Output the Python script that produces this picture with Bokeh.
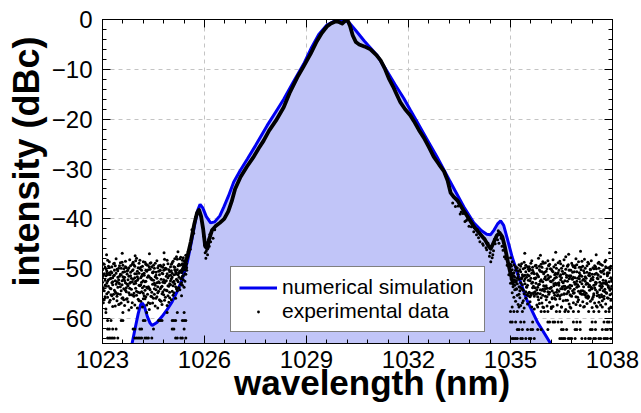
from bokeh.plotting import figure
from bokeh.models import (Range1d, LinearAxis, SingleIntervalTicker, Legend,
                          LegendItem)
from bokeh.embed import file_html
from bokeh.resources import INLINE

FONT = "Liberation Sans"

# ---------------- numerical simulation (blue curve) ----------------
sim_x = [1023.78, 1023.87, 1023.95, 1024.05, 1024.12, 1024.17, 1024.23, 1024.32,
         1024.40, 1024.46, 1024.60, 1024.75, 1024.90, 1025.05, 1025.20, 1025.35,
         1025.50, 1025.62, 1025.72, 1025.80, 1025.87, 1025.95, 1026.05, 1026.18,
         1026.30, 1026.45, 1026.57, 1026.70, 1026.86, 1027.05, 1027.26, 1027.50,
         1027.84, 1028.10, 1028.33, 1028.60, 1028.92, 1029.15, 1029.36, 1029.60,
         1029.85, 1030.05, 1030.25, 1030.45, 1030.70, 1031.08, 1031.37, 1031.60,
         1031.86, 1032.05, 1032.26, 1032.55, 1032.84, 1033.20, 1033.63, 1033.92,
         1034.15, 1034.30, 1034.41, 1034.52, 1034.62, 1034.71, 1034.80, 1034.90,
         1035.05, 1035.25, 1035.49, 1035.80, 1036.18, 1036.30]
sim_y = [-67.5, -65.0, -62.3, -59.0, -57.2, -56.9, -57.5, -59.6,
         -60.9, -61.4, -60.8, -59.6, -58.2, -56.6, -54.5, -52.0,
         -48.5, -44.5, -40.8, -38.3, -37.1, -37.8, -39.5, -40.8,
         -40.6, -39.4, -37.6, -35.5, -32.6, -30.3, -28.0, -25.3,
         -21.3, -18.5, -16.0, -12.7, -8.9, -5.6, -3.0, -1.1,
         -0.2, 0.0, -0.6, -2.2, -4.3, -7.2, -10.4, -13.0,
         -15.8, -18.1, -20.6, -24.1, -27.6, -32.2, -37.6, -40.8,
         -42.4, -43.1, -43.2, -42.2, -41.0, -40.4, -41.3, -43.8,
         -47.7, -51.8, -56.4, -60.8, -65.0, -66.6]

# ---------------- experimental data: main spectrum ----------------
exp_x = [1025.30, 1025.40, 1025.50, 1025.60, 1025.70, 1025.78, 1025.84, 1025.90,
         1025.96, 1026.02, 1026.08, 1026.14, 1026.22, 1026.32, 1026.45, 1026.58,
         1026.70, 1026.80, 1026.90, 1027.06, 1027.25, 1027.45, 1027.60, 1027.74,
         1027.90, 1028.10, 1028.33, 1028.50, 1028.73, 1028.90, 1029.12, 1029.30,
         1029.45, 1029.60, 1029.72, 1029.85, 1029.95, 1030.05, 1030.13, 1030.20,
         1030.28, 1030.36, 1030.45, 1030.55, 1030.70, 1030.88, 1031.05, 1031.18,
         1031.30, 1031.42, 1031.55, 1031.65, 1031.76, 1031.90, 1032.05, 1032.16,
         1032.30, 1032.45, 1032.60, 1032.74, 1032.90, 1033.04, 1033.15, 1033.24,
         1033.33, 1033.45, 1033.63, 1033.80, 1033.95, 1034.10, 1034.25, 1034.35,
         1034.42, 1034.50, 1034.60, 1034.68, 1034.76, 1034.84, 1034.92, 1035.00,
         1035.08]
exp_y = [-51.0, -49.5, -47.5, -44.5, -41.0, -38.8, -38.2, -39.5,
         -42.0, -45.5, -46.0, -44.0, -42.3, -41.5, -40.8, -40.0,
         -38.5, -36.5, -34.0, -31.6, -29.5, -27.5, -25.8, -24.3,
         -22.3, -20.3, -17.6, -14.8, -11.6, -9.6, -6.9, -4.4,
         -2.7, -1.4, -0.8, -0.4, -0.5, -0.8, -0.3, 0.0,
         -1.3, -3.2, -4.5, -5.0, -5.4, -6.0, -7.1, -8.2,
         -9.8, -11.8, -13.5, -15.0, -16.6, -18.0, -19.2, -20.4,
         -22.1, -23.7, -25.6, -27.5, -29.1, -30.4, -32.3, -34.8,
         -35.6, -36.4, -38.4, -40.2, -41.8, -43.0, -44.2, -45.4,
         -46.0, -44.8, -43.3, -42.8, -43.6, -45.8, -48.5, -51.0,
         -53.0]

# scattered points around the two side peaks
side_x = [1025.45, 1025.52, 1025.58, 1025.63, 1025.68, 1025.74,
          1025.98, 1026.00, 1026.02, 1026.04, 1026.05, 1026.07, 1026.09, 1026.10,
          1026.12, 1026.14, 1026.16, 1026.18, 1026.20, 1026.25, 1026.30,
          1033.30, 1033.38, 1033.46, 1033.52, 1033.55, 1033.60, 1033.66, 1033.70,
          1033.74, 1033.78, 1033.85, 1033.88, 1033.92, 1034.00, 1034.02, 1034.06,
          1034.10, 1034.14, 1034.18, 1034.20, 1034.24, 1034.28, 1034.30, 1034.34,
          1034.38, 1034.40, 1034.42, 1034.44, 1034.46, 1034.48, 1034.50, 1034.53,
          1034.55, 1034.58, 1034.62, 1034.64, 1034.66, 1034.72, 1034.75, 1034.78,
          1034.82, 1034.86, 1034.90, 1034.95]
side_y = [-49.3, -46.6, -46.1, -42.2, -42.9, -39.6,
          -43.5, -45.2, -46.8, -47.9, -46.5, -44.8, -47.2, -45.9,
          -44.2, -45.5, -43.1, -44.6, -42.8, -43.9, -42.2,
          -36.8, -37.5, -37.4, -39.0, -38.6, -38.9, -40.5, -40.3,
          -40.0, -41.5, -41.6, -41.0, -42.6, -43.2, -42.1, -43.8,
          -44.6, -43.4, -45.0, -45.3, -44.0, -45.8, -46.2, -44.9,
          -47.5, -46.8, -48.6, -45.6, -47.8, -47.2, -46.4, -44.1,
          -45.0, -43.6, -44.2, -42.4, -44.9, -43.9, -45.5, -46.3,
          -47.6, -48.0, -49.3, -51.2]

# ---------------- experimental data: noise floor, left ----------------
left_x = [1023.000, 1023.025, 1023.050, 1023.075, 1023.100, 1023.125, 1023.150, 1023.175, 1023.200, 1023.225,
          1023.250, 1023.275, 1023.300, 1023.325, 1023.350, 1023.375, 1023.400, 1023.425, 1023.450, 1023.475,
          1023.500, 1023.525, 1023.550, 1023.575, 1023.600, 1023.625, 1023.650, 1023.675, 1023.700, 1023.725,
          1023.750, 1023.775, 1023.800, 1023.825, 1023.850, 1023.875, 1023.900, 1023.925, 1023.950, 1023.975,
          1024.000, 1024.025, 1024.050, 1024.075, 1024.100, 1024.125, 1024.150, 1024.175, 1024.200, 1024.225,
          1024.250, 1024.275, 1024.300, 1024.325, 1024.350, 1024.375, 1024.400, 1024.425, 1024.450, 1024.475,
          1024.500, 1024.525, 1024.550, 1024.575, 1024.600, 1024.625, 1024.650, 1024.675, 1024.700, 1024.725,
          1024.750, 1024.775, 1024.800, 1024.825, 1024.850, 1024.875, 1024.900, 1024.925, 1024.950, 1024.975,
          1025.000, 1025.025, 1025.050, 1025.075, 1025.100, 1025.125, 1025.150, 1025.175, 1025.200, 1025.225,
          1025.250, 1025.275, 1025.300, 1025.325, 1025.350, 1025.375, 1025.400, 1025.425, 1025.450, 1025.475]
left_a = [-50.2, -53.8, -49.1, -55.6, -51.4, -52.9, -48.3, -54.7, -50.8, -56.3,
          -51.9, -49.6, -53.2, -55.1, -48.9, -52.4, -54.9, -50.1, -51.7, -57.2,
          -49.4, -53.6, -51.2, -48.7, -55.8, -52.1, -50.6, -54.3, -49.8, -53.1,
          -56.6, -51.5, -48.2, -52.7, -54.1, -50.4, -55.3, -49.2, -51.8, -53.9,
          -47.9, -52.3, -56.1, -50.9, -53.4, -49.7, -54.6, -51.1, -48.6, -55.4,
          -52.6, -50.3, -53.7, -49.3, -56.8, -51.6, -54.2, -48.8, -52.2, -50.7,
          -55.9, -49.9, -53.3, -51.3, -48.4, -54.8, -50.5, -52.8, -56.4, -49.5,
          -53.5, -51.0, -55.2, -48.1, -52.5, -50.0, -54.4, -49.0, -51.4, -53.0,
          -49.6, -52.0, -54.5, -48.5, -51.2, -50.2, -53.6, -47.6, -52.3, -49.4,
          -50.8, -48.0, -53.1, -49.2, -51.5, -47.8, -50.1, -48.6, -49.5, -48.2]
left_b = [-54.1, -51.3, -56.2, -49.7, -53.5, -50.4, -55.7, -52.2, -48.6, -53.9,
          -50.6, -55.4, -51.8, -49.0, -54.3, -57.5, -50.9, -52.6, -55.0, -49.9,
          -53.0, -51.1, -56.9, -52.4, -49.3, -54.0, -51.7, -48.5, -53.8, -56.0,
          -50.2, -54.8, -52.9, -50.7, -57.8, -49.1, -52.1, -55.5, -51.0, -48.4,
          -54.5, -51.6, -49.8, -53.3, -50.0, -56.5, -52.7, -49.5, -54.9, -51.3,
          -48.7, -55.6, -50.5, -53.9, -51.4, -49.6, -57.0, -52.0, -54.7, -50.8,
          -52.3, -55.1, -48.9, -54.2, -51.9, -53.6, -49.4, -56.2, -50.3, -53.7,
          -50.9, -54.6, -49.2, -52.8, -55.7, -51.5, -48.3, -53.4, -56.7, -50.6,
          -53.2, -50.4, -48.8, -55.3, -52.5, -49.7, -51.1, -54.0, -48.1, -52.6,
          -53.8, -50.5, -47.7, -51.9, -49.0, -52.2, -48.4, -51.0, -47.3, -50.3]
left_c = [-52.7, -56.8, -51.0, -53.3, -58.1, -50.9, -52.5, -49.5, -56.7, -51.2,
          -55.2, -52.8, -57.6, -51.4, -50.3, -54.6, -48.0, -56.4, -53.7, -52.2,
          -57.1, -48.8, -54.4, -55.9, -51.6, -50.0, -57.4, -52.8, -56.1, -50.5,
          -53.4, -58.3, -55.2, -49.4, -51.9, -56.8, -48.7, -53.0, -57.3, -52.5,
          -51.0, -57.9, -54.7, -56.4, -48.3, -53.2, -51.5, -57.7, -52.4, -53.5,
          -56.0, -49.1, -57.3, -55.1, -53.6, -58.2, -50.1, -55.5, -49.6, -56.9,
          -49.3, -52.9, -57.5, -50.7, -55.6, -57.9, -52.6, -50.4, -54.0, -56.5,
          -57.2, -49.7, -52.2, -56.3, -50.1, -54.3, -57.4, -51.8, -53.5, -55.8,
          -51.3, -56.2, -50.9, -52.7, -54.8, -48.0, -55.9, -50.8, -54.4, -51.2,
          -49.1, -54.2, -52.0, -55.4, -53.3, -50.0, -53.7, -52.5, -51.1, -49.0]
left_d = [-51.6, -49.0, -54.4, -52.3, -50.0, -55.0, -51.2, -53.5, -49.7, -52.0,
          -54.0, -50.8, -52.6, -56.0, -51.3, -49.4, -53.1, -55.5, -50.4, -52.8,
          -51.5, -55.1, -49.9, -53.2, -50.7, -56.2, -52.4, -49.6, -54.6, -51.1,
          -52.2, -49.8, -53.9, -51.4, -55.2, -52.6, -50.2, -54.9, -49.5, -52.9,
          -55.3, -50.5, -52.0, -48.9, -54.8, -51.8, -50.3, -53.8, -56.0, -50.9,
          -54.3, -52.5, -49.2, -51.7, -50.2, -53.9, -48.9, -51.9, -55.6, -53.1,
          -50.6, -54.0, -51.6, -55.9, -52.8, -49.8, -54.5, -51.2, -49.3, -52.1,
          -55.0, -52.7, -50.3, -54.2, -49.9, -52.4, -51.0, -55.4, -50.2, -54.7,
          -52.4, -49.1, -51.7, -53.4, -49.6, -53.0, -50.6, -52.1, -50.2, -53.8,
          -51.7, -49.3, -50.4, -52.8, -48.3, -51.4, -49.6, -50.2, -48.5, -49.8]

# ---------------- experimental data: noise floor, right ----------------
right_x = [1035.000, 1035.025, 1035.050, 1035.075, 1035.100, 1035.125, 1035.150, 1035.175, 1035.200, 1035.225,
           1035.250, 1035.275, 1035.300, 1035.325, 1035.350, 1035.375, 1035.400, 1035.425, 1035.450, 1035.475,
           1035.500, 1035.525, 1035.550, 1035.575, 1035.600, 1035.625, 1035.650, 1035.675, 1035.700, 1035.725,
           1035.750, 1035.775, 1035.800, 1035.825, 1035.850, 1035.875, 1035.900, 1035.925, 1035.950, 1035.975,
           1036.000, 1036.025, 1036.050, 1036.075, 1036.100, 1036.125, 1036.150, 1036.175, 1036.200, 1036.225,
           1036.250, 1036.275, 1036.300, 1036.325, 1036.350, 1036.375, 1036.400, 1036.425, 1036.450, 1036.475,
           1036.500, 1036.525, 1036.550, 1036.575, 1036.600, 1036.625, 1036.650, 1036.675, 1036.700, 1036.725,
           1036.750, 1036.775, 1036.800, 1036.825, 1036.850, 1036.875, 1036.900, 1036.925, 1036.950, 1036.975,
           1037.000, 1037.025, 1037.050, 1037.075, 1037.100, 1037.125, 1037.150, 1037.175, 1037.200, 1037.225,
           1037.250, 1037.275, 1037.300, 1037.325, 1037.350, 1037.375, 1037.400, 1037.425, 1037.450, 1037.475,
           1037.500, 1037.525, 1037.550, 1037.575, 1037.600, 1037.625, 1037.650, 1037.675, 1037.700, 1037.725,
           1037.750, 1037.775, 1037.800, 1037.825, 1037.850, 1037.875, 1037.900, 1037.925, 1037.950, 1037.975]
right_a = [-47.8, -49.5, -48.6, -50.9, -49.2, -51.7, -50.3, -52.4, -49.8, -51.1,
           -53.6, -50.2, -52.8, -49.0, -54.1, -51.5, -48.7, -53.0, -50.6, -55.2,
           -49.6, -52.3, -54.7, -50.1, -51.9, -48.4, -53.8, -50.7, -55.5, -52.0,
           -49.3, -54.2, -51.3, -47.9, -53.1, -50.5, -55.8, -49.7, -52.6, -51.0,
           -54.5, -48.8, -53.4, -50.0, -52.1, -55.1, -49.1, -51.6, -53.7, -50.4,
           -48.2, -54.8, -51.2, -52.9, -49.9, -55.4, -50.8, -53.3, -48.5, -52.2,
           -51.8, -54.0, -49.4, -53.5, -50.9, -47.6, -55.0, -52.5, -49.2, -51.4,
           -53.9, -50.3, -48.9, -54.4, -51.7, -52.7, -49.8, -55.6, -50.6, -53.2,
           -48.6, -52.0, -54.9, -50.2, -51.5, -49.5, -53.6, -48.1, -55.3, -51.9,
           -50.7, -53.0, -49.0, -54.3, -52.4, -48.4, -51.1, -55.7, -50.0, -53.8,
           -49.6, -52.8, -54.6, -51.3, -48.7, -53.4, -50.5, -55.2, -49.3, -52.3,
           -51.0, -54.1, -48.3, -53.1, -50.8, -55.9, -52.6, -49.7, -51.8, -53.5]
right_b = [-50.4, -52.1, -51.3, -53.6, -50.8, -54.2, -52.7, -49.9, -55.3, -51.6,
           -49.2, -55.8, -50.6, -53.9, -51.2, -56.4, -52.4, -49.8, -54.6, -51.7,
           -53.3, -50.1, -51.4, -55.6, -48.9, -52.9, -50.3, -54.8, -51.9, -49.4,
           -55.1, -51.0, -53.7, -56.2, -50.2, -52.5, -49.1, -54.3, -48.6, -53.4,
           -50.7, -55.5, -52.2, -53.9, -48.4, -51.8, -54.7, -50.0, -52.6, -56.0,
           -52.3, -49.6, -55.9, -50.9, -53.2, -51.1, -48.8, -54.5, -51.5, -49.0,
           -55.2, -50.5, -52.8, -48.2, -54.1, -56.3, -51.3, -49.5, -53.6, -50.3,
           -51.6, -55.4, -52.0, -49.3, -54.9, -50.6, -53.1, -48.0, -52.5, -56.6,
           -53.5, -49.7, -51.2, -55.0, -48.5, -54.4, -52.1, -50.8, -49.9, -55.7,
           -52.9, -48.7, -55.6, -51.4, -50.1, -53.7, -56.1, -51.7, -53.3, -49.4,
           -54.2, -50.9, -51.9, -48.9, -55.3, -52.7, -49.1, -53.0, -56.4, -50.4,
           -55.5, -48.6, -52.4, -54.8, -51.1, -49.8, -53.9, -50.2, -54.0, -52.2]
right_c = [-52.9, -51.0, -54.8, -53.1, -55.7, -52.3, -56.5, -54.1, -53.0, -57.2,
           -55.1, -53.7, -57.4, -52.0, -56.8, -54.3, -57.9, -51.3, -55.9, -53.6,
           -57.1, -55.4, -49.6, -56.6, -54.9, -57.7, -52.7, -55.0, -58.1, -53.8,
           -51.8, -57.3, -55.6, -53.2, -57.0, -54.2, -52.4, -56.9, -55.3, -57.8,
           -53.5, -51.6, -56.2, -57.5, -54.6, -49.3, -56.7, -53.9, -58.0, -55.8,
           -57.6, -53.4, -51.9, -56.1, -54.7, -57.3, -55.2, -52.8, -56.0, -54.0,
           -57.7, -52.6, -56.4, -55.0, -53.5, -58.2, -51.7, -56.3, -54.5, -57.1,
           -53.3, -57.9, -55.5, -52.1, -56.8, -54.8, -49.4, -57.2, -53.7, -55.7,
           -56.2, -51.5, -57.4, -54.4, -53.0, -56.6, -55.1, -57.6, -52.5, -54.9,
           -57.0, -55.9, -53.6, -50.9, -56.5, -54.0, -57.8, -52.2, -55.3, -56.9,
           -53.1, -57.5, -55.4, -51.2, -56.7, -54.2, -57.3, -53.8, -55.6, -52.9,
           -56.0, -54.6, -57.1, -52.8, -55.8, -53.4, -58.0, -54.3, -56.3, -55.0]
right_d = [-49.1, -51.9, -50.2, -52.6, -51.4, -53.3, -49.6, -54.0, -51.9, -50.5,
           -52.1, -54.4, -49.5, -51.8, -53.2, -50.0, -55.0, -52.0, -49.3, -53.7,
           -51.2, -54.9, -50.4, -52.4, -55.3, -50.9, -49.7, -53.5, -51.0, -54.6,
           -52.9, -49.8, -54.9, -51.6, -49.5, -55.0, -52.2, -50.6, -54.1, -48.9,
           -52.0, -54.0, -50.5, -55.6, -51.3, -49.4, -53.9, -52.5, -50.1, -54.4,
           -50.6, -53.0, -55.3, -49.2, -51.7, -54.2, -52.9, -50.3, -55.5, -51.2,
           -49.9, -53.6, -51.0, -55.1, -52.4, -50.1, -53.8, -49.4, -54.7, -52.0,
           -55.2, -51.4, -53.4, -50.7, -49.6, -54.1, -51.8, -53.0, -49.2, -51.9,
           -54.5, -50.8, -52.6, -49.7, -55.1, -52.3, -50.4, -54.6, -51.6, -53.1,
           -49.4, -55.4, -51.3, -53.3, -50.2, -52.0, -54.0, -49.8, -55.0, -51.1,
           -52.7, -50.0, -54.8, -52.0, -49.9, -55.7, -51.6, -50.7, -53.5, -54.4,
           -50.2, -52.9, -49.6, -54.9, -51.4, -53.6, -50.8, -55.2, -49.5, -52.5]

# sparse high outliers of the noise floor
up_x = [1023.12, 1023.58, 1023.96, 1024.38, 1024.81, 1025.22,
        1035.42, 1035.88, 1036.33, 1036.71, 1037.06, 1037.52, 1037.91]
up_y = [-47.2, -46.9, -47.4, -47.0, -46.8, -46.6,
        -46.9, -47.3, -46.7, -47.1, -46.5, -47.2, -46.8]

# quantised low-level readings of the noise floor (level, wavelengths)
low_rows = [
    (-63.9, [1023.15, 1023.20, 1023.25, 1023.30, 1023.35, 1023.45, 1023.95, 1024.00,
             1024.05, 1024.10, 1024.15, 1024.25, 1024.30, 1024.35, 1024.45, 1025.15,
             1025.20, 1025.30, 1025.35, 1025.45]),
    (-62.1, [1023.15, 1023.20, 1023.30, 1023.40, 1023.90, 1023.95, 1024.10, 1024.15,
             1024.50, 1025.05, 1025.10, 1025.40]),
    (-60.4, [1023.15, 1023.25, 1023.55, 1023.60, 1024.20, 1024.25, 1024.65, 1024.70,
             1024.75, 1025.05, 1025.10, 1025.15, 1025.35, 1025.40, 1025.45]),
    (-58.8, [1023.10, 1023.60, 1024.30, 1024.90, 1025.20, 1025.40]),
    (-64.0, [1035.05, 1035.10, 1035.15, 1035.20, 1035.30, 1035.35, 1035.45, 1035.55,
             1035.60, 1035.70, 1036.45, 1036.50, 1036.55, 1036.60, 1036.70, 1036.75,
             1036.80, 1036.90, 1037.10, 1037.20, 1037.30, 1037.35, 1037.45, 1037.50,
             1037.60, 1037.65, 1037.75, 1037.80, 1037.85, 1037.95, 1038.00]),
    (-62.2, [1035.20, 1035.25, 1035.35, 1035.50, 1035.60, 1035.65, 1035.80, 1035.90,
             1036.10, 1036.50, 1036.55, 1036.65, 1036.90, 1036.95, 1037.05, 1037.35,
             1037.40, 1037.50, 1037.70, 1037.80, 1037.85, 1037.95]),
    (-60.7, [1035.00, 1035.05, 1035.15, 1035.30, 1035.40, 1035.65, 1036.10, 1036.15,
             1036.25, 1036.30, 1036.40, 1036.50, 1036.85, 1036.95, 1037.05, 1037.40,
             1037.50, 1037.75, 1037.85, 1037.90, 1038.00]),
    (-58.6, [1035.00, 1035.10, 1035.20, 1035.35, 1035.90, 1036.00, 1036.10, 1036.35,
             1036.45, 1036.60, 1036.70, 1036.85, 1037.00, 1037.30, 1037.45, 1037.60,
             1037.80, 1037.90]),
    (-57.7, [1035.05, 1035.25, 1035.80, 1035.95, 1036.20, 1036.50, 1036.75, 1037.15,
             1037.55, 1037.70, 1037.95]),
]

x_ticks_interval = 3
y_ticks_interval = 10
x_label = "wavelength (nm)"
y_label = "intensity (dBc)"

# ---------------- assemble dot cloud ----------------
dots_x, dots_y = [], []
for xs, scans in ((left_x, (left_a, left_b, left_c, left_d)),
                  (right_x, (right_a, right_b, right_c, right_d))):
    for ys in scans:
        for xv, yv in zip(xs, ys):
            dots_x.append(xv)
            dots_y.append(yv)
for level, xs in low_rows:
    for xv in xs:
        dots_x.append(xv)
        dots_y.append(level)
for xv, yv in zip(up_x + side_x, up_y + side_y):
    dots_x.append(xv)
    dots_y.append(yv)

# ---------------- figure ----------------
p = figure(width=641, height=413, output_backend="svg", toolbar_location=None,
           x_range=Range1d(1023, 1038), y_range=Range1d(-65, 0),
           min_border_left=102, min_border_right=29, min_border_top=19,
           min_border_bottom=70, background_fill_color="white",
           border_fill_color="white")
p.outline_line_color = "black"
p.outline_line_width = 1

xt = SingleIntervalTicker(interval=x_ticks_interval, num_minor_ticks=5)
yt = SingleIntervalTicker(interval=y_ticks_interval, num_minor_ticks=5)

p.xaxis.ticker = xt
p.yaxis.ticker = yt
p.xgrid.ticker = xt
p.ygrid.ticker = yt
for g in (p.xgrid, p.ygrid):
    g.grid_line_color = "#c4c4c4"
    g.grid_line_dash = "4 4"
    g.grid_line_width = 1


def style_axis(ax):
    ax.axis_line_color = "black"
    ax.major_tick_line_color = "black"
    ax.minor_tick_line_color = "black"
    ax.major_tick_in = 8
    ax.major_tick_out = 0
    ax.minor_tick_in = 4
    ax.minor_tick_out = 0
    ax.major_label_text_font = FONT
    ax.major_label_text_font_size = "24px"
    ax.major_label_text_color = "black"
    ax.axis_label_text_font = FONT
    ax.axis_label_text_font_style = "bold"
    ax.axis_label_text_color = "black"


for ax in (p.xaxis[0], p.yaxis[0]):
    style_axis(ax)

# leading no-break spaces shift the titles off-centre as in the original
p.xaxis.axis_label = "\u00a0\u00a0\u00a0" + x_label
p.xaxis.axis_label_text_font_size = "35px"
p.xaxis.major_label_standoff = 7
p.xaxis.axis_label_standoff = -8

p.yaxis.axis_label = "\u00a0\u00a0\u00a0\u00a0" + y_label
p.yaxis.axis_label_text_font_size = "36px"
p.yaxis.major_label_standoff = 10
p.yaxis.axis_label_standoff = 2

# mirrored axes (ticks only, no labels drawn)
top = LinearAxis(ticker=xt)
right = LinearAxis(ticker=yt)
for ax in (top, right):
    style_axis(ax)
    ax.major_label_text_font_size = "1px"
    ax.major_label_text_color = None
    ax.major_label_standoff = 0
    ax.axis_label = None
p.add_layout(top, "above")
p.add_layout(right, "right")

# ---------------- glyphs ----------------
p.varea(x=sim_x, y1=-90, y2=sim_y, fill_color="#c1c5f8", fill_alpha=1.0)
sim_r = p.line(sim_x, sim_y, line_color="#0000f0", line_width=3)
p.line(exp_x, exp_y, line_color="black", line_width=3.8, line_join="round")
dots_r = p.scatter(dots_x, dots_y, marker="circle", size=3.0,
                   fill_color="black", line_color=None)

legend = Legend(items=[LegendItem(label="numerical simulation", renderers=[sim_r]),
                       LegendItem(label="experimental data", renderers=[dots_r])],
                location=(128, 11))
legend.label_text_font = FONT
legend.label_text_font_size = "21px"
legend.label_text_color = "black"
legend.border_line_color = "black"
legend.border_line_width = 1
legend.background_fill_color = "white"
legend.background_fill_alpha = 1.0
legend.padding = 8
legend.spacing = 0
legend.margin = 0
legend.glyph_width = 38
legend.glyph_height = 7
legend.label_standoff = 5
legend.label_width = 194
p.add_layout(legend)

open("out.html", "w").write(file_html(p, INLINE))
